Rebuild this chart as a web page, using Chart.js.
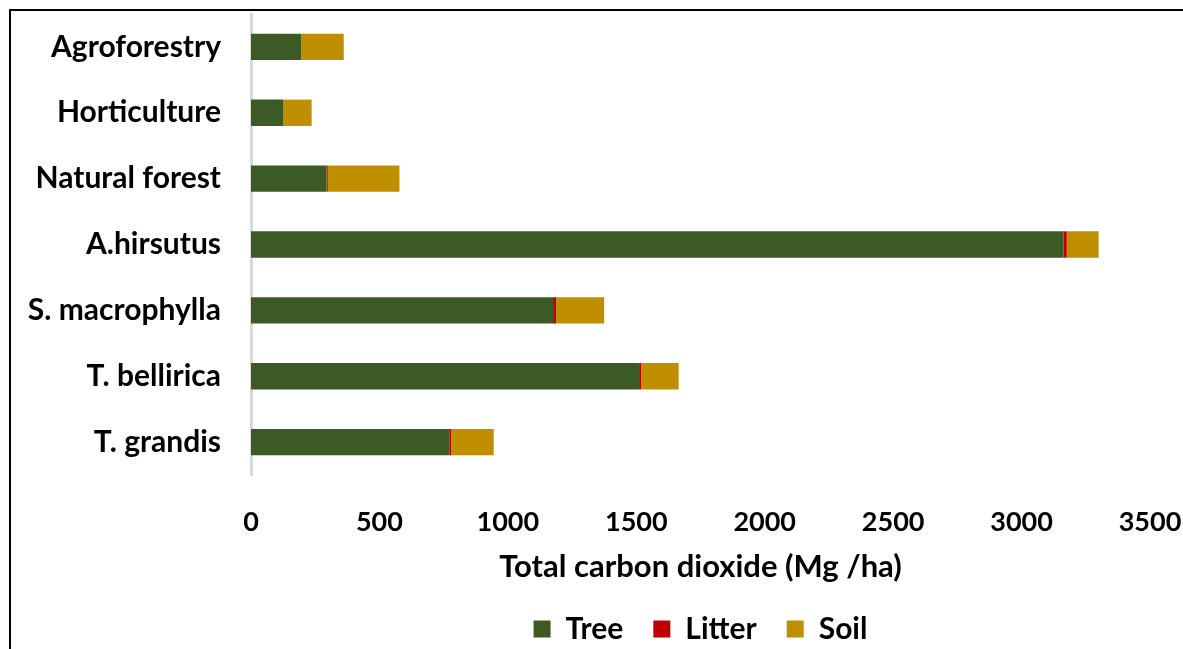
<!DOCTYPE html>
<html>
<head>
<meta charset="utf-8">
<script src="https://cdn.jsdelivr.net/npm/chart.js@4.4.1/dist/chart.umd.min.js"></script>
<style>
  html, body { margin: 0; padding: 0; background: #ffffff; }
  #wrap { position: relative; width: 1183px; height: 649px; overflow: hidden; }
  #frame { position: absolute; left: 9px; top: 9px; width: 1300px; height: 800px;
           border-left: 2px solid #000; border-top: 2px solid #000; box-sizing: border-box; }
  canvas { position: absolute; left: 0; top: 0; }
</style>
</head>
<body>
<div id="wrap">
  <div id="frame"></div>
  <canvas id="c" width="1183" height="649"></canvas>
</div>
<script>
// Land-use categories, top to bottom
const categories = ['Agroforestry', 'Horticulture', 'Natural forest', 'A.hirsutus', 'S. macrophylla', 'T. bellirica', 'T. grandis'];
// Carbon dioxide stock per pool (Mg/ha)
const treeValues   = [195, 125, 294, 3163, 1176, 1511, 772];
const litterValues = [0, 0, 5, 13, 12, 8, 7];
const soilValues   = [166, 111, 279, 124, 187, 146, 166];
const xTicks = [0, 500, 1000, 1500, 2000, 2500, 3000, 3500];
const xTitle = 'Total carbon dioxide (Mg /ha)';

const FONT = 'Lato, "Liberation Sans", sans-serif';

new Chart(document.getElementById('c'), {
  type: 'bar',
  data: {
    labels: categories,
    datasets: [
      { label: 'Tree',   data: treeValues,   backgroundColor: '#3b5a24', borderWidth: 0 },
      { label: 'Litter', data: litterValues, backgroundColor: '#c00000', borderWidth: 0 },
      { label: 'Soil',   data: soilValues,   backgroundColor: '#bf8f00', borderWidth: 0 }
    ]
  },
  options: {
    indexAxis: 'y',
    responsive: false,
    animation: false,
    layout: { padding: { left: 0, right: 33, top: 14, bottom: -5 } },
    datasets: { bar: { categoryPercentage: 0.4, barPercentage: 1.0 } },
    scales: {
      x: {
        stacked: true,
        min: 0, max: 3500,
        afterBuildTicks: (s) => { s.ticks = xTicks.map(v => ({ value: v })); },
        grid: { display: false },
        border: { display: false },
        ticks: {
          color: '#000', font: { family: FONT, size: 27, weight: 'bold' }, padding: 23, maxRotation: 0,
          callback: (v) => String(v)
        },
        title: { display: true, text: xTitle, color: '#000', font: { family: FONT, size: 31, weight: 'bold' }, padding: { top: 0, bottom: -2 } },
        afterFit: (s) => { s.height = 109; s.paddingLeft = 0; s.paddingRight = 0; }
      },
      y: {
        stacked: true,
        grid: { display: false },
        border: { display: true, color: '#d9d9d9', width: 3 },
        ticks: { color: '#000', font: { family: FONT, size: 30, weight: 'bold' }, padding: 22 },
        afterFit: (s) => { s.width = 251; s.paddingTop = 0; s.paddingBottom = 0; }
      }
    },
    plugins: {
      legend: {
        position: 'bottom',
        fullSize: false,
        labels: { color: '#000', font: { family: FONT, size: 30, weight: 'bold' }, boxWidth: 17, boxHeight: 17, padding: 30 }
      },
      tooltip: { enabled: false }
    }
  }
});
</script>
</body>
</html>
